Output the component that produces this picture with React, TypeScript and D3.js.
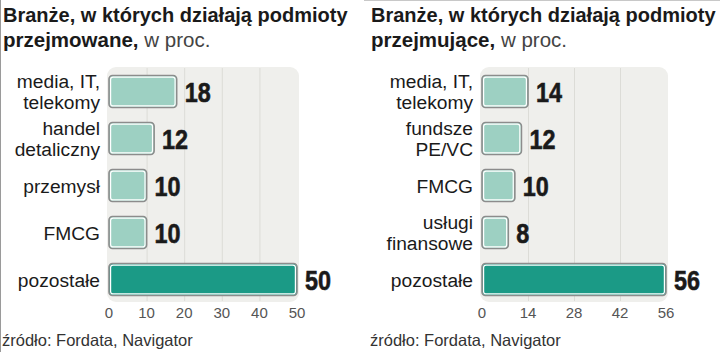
import React from "react";
import * as d3 from "d3";

const leftCategories: string[][] = [
  ["media, IT,", "telekomy"],
  ["handel", "detaliczny"],
  ["przemysł"],
  ["FMCG"],
  ["pozostałe"],
];
const leftValues = [18, 12, 10, 10, 50];
const leftTicks = [0, 10, 20, 30, 40, 50];

const rightCategories: string[][] = [
  ["media, IT,", "telekomy"],
  ["fundsze", "PE/VC"],
  ["FMCG"],
  ["usługi", "finansowe"],
  ["pozostałe"],
];
const rightValues = [14, 12, 10, 8, 56];
const rightTicks = [0, 14, 28, 42, 56];

const leftTitle = ["Branże, w których działają podmioty", "przejmowane,"];
const rightTitle = ["Branże, w których działają podmioty", "przejmujące,"];
const unitText = " w proc.";
const sourceText = "źródło: Fordata, Navigator";

const LABEL_FONT = "'Liberation Sans', Arial, sans-serif";

type PanelProps = {
  ox: number;
  categories: string[][];
  values: number[];
  ticks: number[];
  x0: number;
  x1: number;
  labelRight: number;
  title: string[];
};

function Panel({ ox, categories, values, ticks, x0, x1, labelRight, title }: PanelProps) {
  const max = ticks[ticks.length - 1];
  const x = d3.scaleLinear().domain([0, max]).range([x0, x1]);
  const keys = categories.map((c) => c.join(" "));
  const y = d3
    .scaleBand<string>()
    .domain(keys)
    .range([68, 303])
    .paddingInner(0.32)
    .paddingOuter(0.16);
  const bw = y.bandwidth();
  return (
    <g>
      <text x={ox + 3} y={22} fontFamily={LABEL_FONT} fontWeight="bold" fontSize={20} fill="#1a1a1a">
        {title[0]}
      </text>
      <text x={ox + 3} y={47} fontFamily={LABEL_FONT} fontSize={20.5} fill="#1a1a1a">
        <tspan fontWeight="bold">{title[1]}</tspan>
        <tspan fill="#444">{unitText}</tspan>
      </text>
      <rect x={x(0) - 2} y={67} width={x(max) - x(0) + 4} height={235} rx={9} fill="#efefec" />
      {ticks.slice(1, -1).map((t) => (
        <line key={t} x1={x(t) + 0.5} x2={x(t) + 0.5} y1={68} y2={301} stroke="#dcdcd7" strokeWidth={1} />
      ))}
      {values.map((v, i) => {
        const yy = y(keys[i])!;
        const cy = yy + bw / 2;
        const last = i === values.length - 1;
        const lines = categories[i];
        const label = String(v);
        return (
          <g key={keys[i]}>
            <rect
              x={x(0)}
              y={yy}
              width={x(v) - x(0)}
              height={bw}
              rx={3.5}
              fill={last ? "#1b9a86" : "#9dd0c2"}
              stroke="#8c8c8c"
              strokeWidth={1.6}
            />
            <rect
              x={x(0) + 1.6}
              y={yy + 1.6}
              width={x(v) - x(0) - 3.2}
              height={bw - 3.2}
              rx={2.5}
              fill="none"
              stroke="#ffffff"
              strokeWidth={1.2}
            />
            <text
              x={x(v) + 8}
              y={cy + 10}
              fontFamily={LABEL_FONT}
              fontWeight="bold"
              fontSize={28}
              fill="#1a1a1a"
              textLength={label.length * 13}
              lengthAdjust="spacingAndGlyphs"
              stroke="#1a1a1a"
              strokeWidth={0.6}
            >
              {label}
            </text>
            <text
              x={labelRight}
              y={lines.length === 1 ? cy + 7 : cy - 4}
              textAnchor="end"
              fontFamily={LABEL_FONT}
              fontSize={19.2}
              fill="#1a1a1a"
            >
              {lines.map((l, j) => (
                <tspan key={j} x={labelRight} dy={j === 0 ? 0 : 21.6}>
                  {l}
                </tspan>
              ))}
            </text>
          </g>
        );
      })}
      {ticks.map((t) => (
        <text
          key={t}
          x={x(t)}
          y={318}
          textAnchor="middle"
          fontFamily={LABEL_FONT}
          fontSize={15}
          fill="#555"
        >
          {t}
        </text>
      ))}
      <text x={ox + 2} y={346} fontFamily={LABEL_FONT} fontSize={16.5} fill="#333">
        {sourceText}
      </text>
    </g>
  );
}

export default function App() {
  return (
    <svg
      width={720}
      height={352}
      style={{ position: "absolute", left: 0, top: 0, background: "#fff" }}
    >
      <rect width={720} height={352} fill="#ffffff" />
      <line x1={0.5} x2={0.5} y1={0} y2={352} stroke="#9a9a9a" strokeWidth={1} />
      <line x1={364} x2={720} y1={0.5} y2={0.5} stroke="#c8c8c8" strokeWidth={1} />
      <Panel
        ox={0}
        categories={leftCategories}
        values={leftValues}
        ticks={leftTicks}
        x0={109}
        x1={297}
        labelRight={100}
        title={leftTitle}
      />
      <Panel
        ox={368}
        categories={rightCategories}
        values={rightValues}
        ticks={rightTicks}
        x0={482}
        x1={666}
        labelRight={473}
        title={rightTitle}
      />
    </svg>
  );
}
